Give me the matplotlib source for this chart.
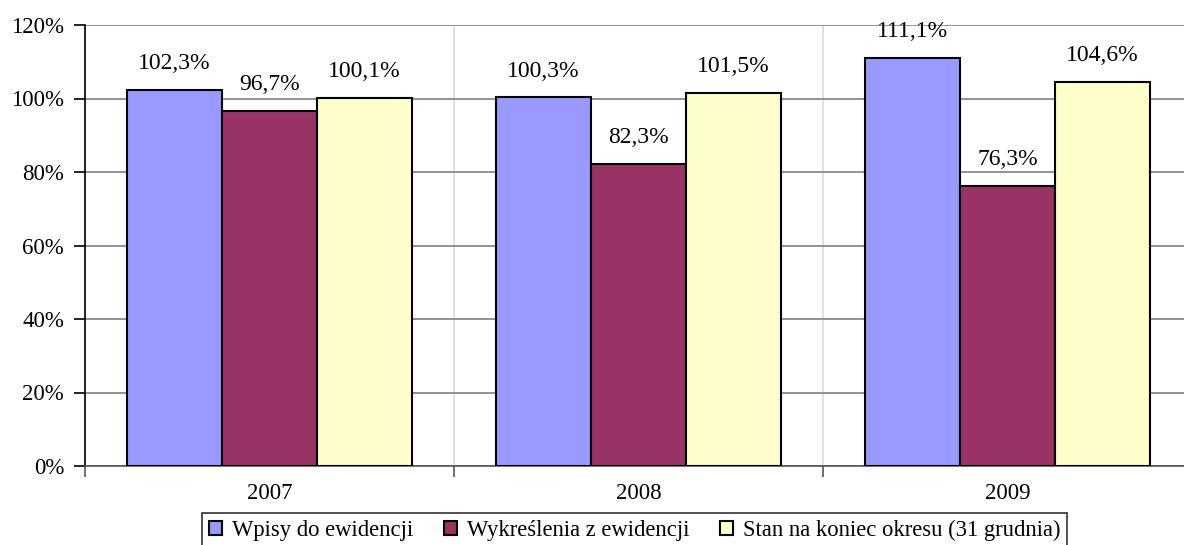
import numpy as np
import matplotlib.pyplot as plt
from matplotlib.ticker import FixedLocator

plt.rcParams['font.family'] = ['Liberation Serif', 'DejaVu Serif']

years = ['2007', '2008', '2009']
series_names = ['Wpisy do ewidencji', 'Wykreślenia z ewidencji',
                'Stan na koniec okresu (31 grudnia)']
wpisy = [102.3, 100.3, 111.1]
wykreslenia = [96.7, 82.3, 76.3]
stan = [100.1, 101.5, 104.6]
colors = ['#9999FF', '#993366', '#FFFFCC']

fig = plt.figure(figsize=(11.84, 5.45), dpi=100)
# axes runs a bit past the right edge, like the reference crop
ax = fig.add_axes([85 / 1184, (545 - 466) / 545, 1107 / 1184, 441 / 545])

x = np.arange(len(years)) + 0.5
w = 0.258
for i, (vals, name) in enumerate(zip([wpisy, wykreslenia, stan], series_names)):
    pos = x + (i - 1) * w
    ax.bar(pos, vals, width=w, color=colors[i], edgecolor='black',
           linewidth=1.5, label=name, zorder=3)
    for px, v in zip(pos, vals):
        ax.annotate(f'{v:.1f}%'.replace('.', ','), (px, v), xytext=(0, 19),
                    textcoords='offset points', ha='center', va='center',
                    fontsize=17)

ax.set_xlim(0, 3)
ax.set_ylim(0, 120)
ax.set_yticks(range(0, 121, 20))
ax.set_yticklabels([f'{t}%' for t in range(0, 121, 20)], fontsize=16.5)
ax.set_xticks(x)
ax.set_xticklabels(years, fontsize=16.5)
ax.xaxis.set_minor_locator(FixedLocator([0, 1, 2, 3]))
ax.tick_params(axis='x', which='major', length=0, pad=12)
ax.tick_params(axis='x', which='minor', length=8, color='#555555', width=1.2)
ax.tick_params(axis='y', length=8, width=1.2, pad=7)

ax.grid(axis='y', color='#808080', linewidth=1.2, zorder=0)
ax.grid(axis='x', which='minor', color='#d9d9d9', linewidth=1.2, zorder=0)
ax.spines['top'].set_visible(False)
ax.spines['right'].set_visible(False)
ax.spines['left'].set_linewidth(1.2)
ax.spines['bottom'].set_color('#555555')
ax.spines['bottom'].set_linewidth(1.2)

leg = fig.legend(loc='upper left', bbox_to_anchor=(202 / 1184, 1 - 513 / 545),
                 ncol=3, fontsize=16.3, frameon=True, fancybox=False,
                 handlelength=0.58, handleheight=0.58, handletextpad=0.44,
                 columnspacing=1.35, borderpad=0.3, borderaxespad=0)
leg.get_frame().set_edgecolor('black')
leg.get_frame().set_linewidth(1.2)

fig.savefig('out.png', dpi=100)
